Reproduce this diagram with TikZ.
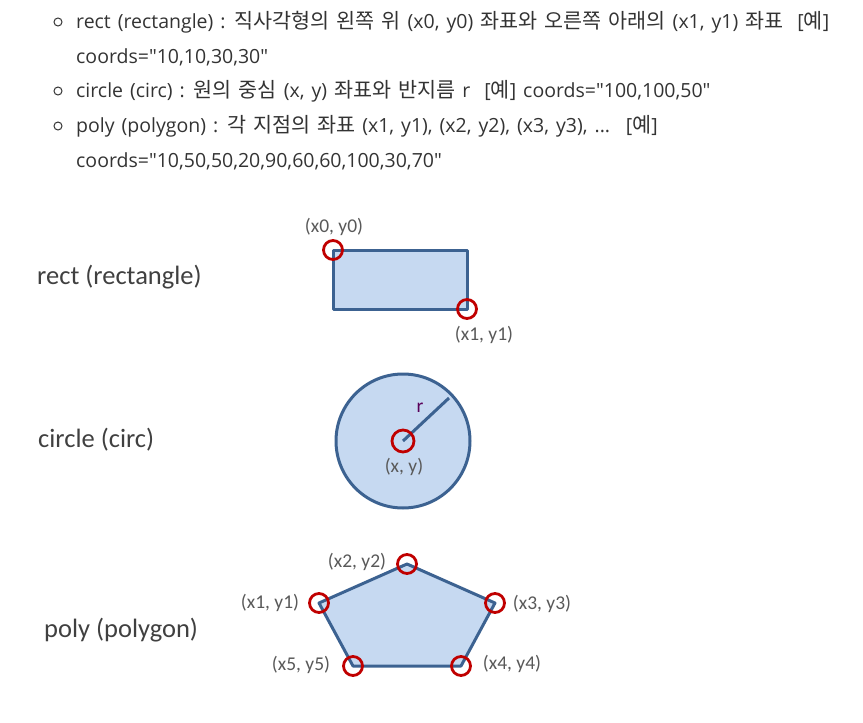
\documentclass[tikz,border=0pt]{standalone}
\usepackage{fontspec}
\setmainfont{Carlito}
\newfontfamily\kfont{Noto Sans CJK KR}
\newfontfamily\lfont{Open Sans}
\newcommand\kr[1]{{\kfont\fontsize{20.7}{22}\selectfont #1}}
\newcommand\topfont{\lfont\fontsize{19.5}{22}\selectfont\spaceskip=7pt\relax}
\definecolor{shapefill}{HTML}{C6D9F1}
\definecolor{shapeline}{HTML}{3C6291}
\definecolor{mark}{HTML}{C00000}
\definecolor{lbl}{HTML}{595959}
\definecolor{ttl}{HTML}{404040}
\definecolor{body}{HTML}{333333}
\tikzset{
  shp/.style={draw=shapeline,fill=shapefill,line width=3pt,line join=round},
  marker/.style={draw=mark,line width=2.8pt,circle,minimum size=19pt,inner sep=0pt},
  small/.style={font=\fontsize{19.5}{22}\selectfont,text=lbl,inner sep=1pt},
  big/.style={font=\fontsize{26.5}{30}\selectfont,text=ttl,inner sep=0pt},
  line/.style={font=\topfont,text=body,anchor=base west,inner sep=0pt},
  bul/.style={draw=body,line width=1pt,circle,minimum size=8pt,inner sep=0pt}
}
\begin{document}
\begin{tikzpicture}[x=1pt,y=-1pt]
\useasboundingbox (0,0) rectangle (863,723);
% top text
\node[bul] (b1) at (58,22) {};
\node[bul] (b2) at (58,91) {};
\node[bul] (b3) at (58,126) {};
\node[line] (t1) at (76,28) {rect (rectangle) : \kr{직사각형의 왼쪽 위} (x0, y0) \kr{좌표와 오른쪽 아래의} (x1, y1) \kr{좌표} \ [\kr{예}]};
\node[line] (t2) at (76,63) {coords="10,10,30,30"};
\node[line] (t3) at (76,97) {circle (circ) : \kr{원의 중심} (x, y) \kr{좌표와 반지름} r \ [\kr{예}] coords="100,100,50"};
\node[line] (t4) at (76,132) {poly (polygon) : \kr{각 지점의 좌표} (x1, y1), (x2, y2), (x3, y3), ... \ [\kr{예}]};
\node[line] (t5) at (76,167) {coords="10,50,50,20,90,60,60,100,30,70"};
% left titles
\node[big,anchor=west] (l1) at (37,277) {rect (rectangle)};
\node[big,anchor=west] (l2) at (38,440) {circle (circ)};
\node[big,anchor=west] (l3) at (44,630) {poly (polygon)};
% rectangle
\draw[shp] (333,250) rectangle (467,309);
\coordinate (r0) at (333,250);
\coordinate (r1) at (467,309);
\node[marker] (m0) at (r0) {};
\node[marker] (m1) at (r1) {};
\node[small] (lr0) at (334,227) {(x0, y0)};
\node[small] (lr1) at (484,335) {(x1, y1)};
% circle
\coordinate (cc) at (403,441);
\draw[shp] (cc) circle (67);
\coordinate (ce) at (449,398);
\draw[draw=shapeline,line width=3pt] (cc) -- (ce);
\node[marker,minimum size=22pt] (mc) at (cc) {};
\node[small,text=violet!70!black] (lrr) at (420,408) {r};
\node[small] (lc) at (404,467) {(x, y)};
% polygon
\coordinate (p1) at (319,603);
\coordinate (p2) at (407,564);
\coordinate (p3) at (495,603);
\coordinate (p4) at (461,666);
\coordinate (p5) at (353,666);
\draw[shp] (p1) -- (p2) -- (p3) -- (p4) -- (p5) -- cycle;
\foreach \p in {p1,p2,p3,p4,p5} \node[marker] (m\p) at (\p) {};
\node[small] (lp1) at (270,603) {(x1, y1)};
\node[small] (lp2) at (357,562) {(x2, y2)};
\node[small] (lp3) at (542,604) {(x3, y3)};
\node[small] (lp4) at (512,664) {(x4, y4)};
\node[small] (lp5) at (301,665) {(x5, y5)};
\end{tikzpicture}
\end{document}
